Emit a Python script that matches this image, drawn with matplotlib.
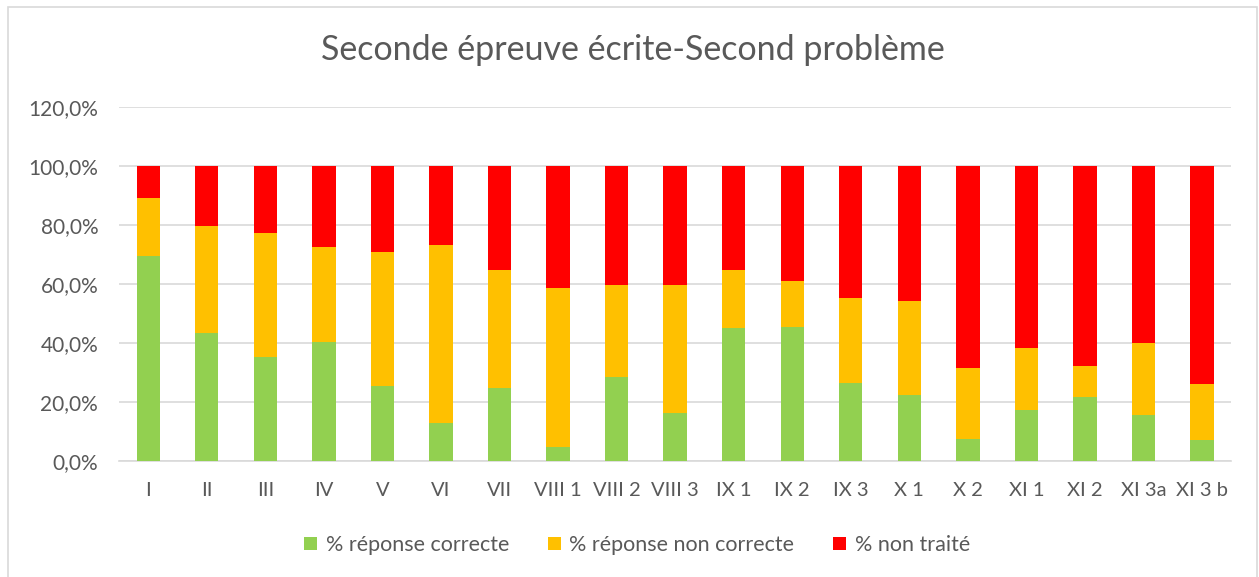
import matplotlib
matplotlib.use("Agg")
import matplotlib.pyplot as plt
import numpy as np
from matplotlib.patches import Rectangle
from matplotlib.ticker import FuncFormatter

plt.rcParams['font.family'] = ['Lato', 'DejaVu Sans']

questions = ["I", "II", "III", "IV", "V", "VI", "VII", "VIII 1", "VIII 2", "VIII 3",
             "IX 1", "IX 2", "IX 3", "X 1", "X 2", "XI 1", "XI 2", "XI 3a", "XI 3 b"]
correcte = [69.5, 43.4, 35.2, 40.2, 25.5, 13.0, 24.7, 4.8, 28.5, 16.4,
            45.0, 45.5, 26.5, 22.5, 7.4, 17.3, 21.6, 15.5, 7.0]
non_correcte = [19.5, 36.3, 42.1, 32.5, 45.5, 60.3, 40.1, 53.8, 31.2, 43.4,
                19.6, 15.5, 28.7, 31.9, 24.2, 21.1, 10.6, 24.5, 19.2]
non_traite = [11.0, 20.3, 22.7, 27.3, 29.0, 26.7, 35.2, 41.4, 40.3, 40.2,
              35.4, 39.0, 44.8, 45.6, 68.4, 61.6, 67.8, 60.0, 73.8]

text_col = "#595959"
fig = plt.figure(figsize=(12.59, 5.77), dpi=100)
ax = fig.add_axes([0.0945, 0.201, 0.8835, 0.6136])

x = np.arange(len(questions))
w = 0.4
ax.bar(x, correcte, w, color="#92D050", label="% réponse correcte", zorder=3)
ax.bar(x, non_correcte, w, bottom=correcte, color="#FFC000",
       label="% réponse non correcte", zorder=3)
bottom2 = np.array(correcte) + np.array(non_correcte)
ax.bar(x, non_traite, w, bottom=bottom2, color="#FF0000", label="% non traité", zorder=3)

ax.set_xlim(-0.5, len(questions) - 0.5)
ax.set_ylim(0, 120)
ax.set_yticks(np.arange(0, 121, 20))
ax.yaxis.set_major_formatter(FuncFormatter(lambda v, p: f"{v:.1f}%".replace(".", ",")))
ax.set_xticks(x)
ax.set_xticklabels(questions)
ax.grid(axis="y", color="#D9D9D9", linewidth=1.2, zorder=0)
for s in ["top", "right", "left"]:
    ax.spines[s].set_visible(False)
ax.spines["bottom"].set_color("#D9D9D9")
ax.spines["bottom"].set_linewidth(1.2)
ax.tick_params(axis="both", length=0, colors=text_col)
ax.tick_params(axis="y", pad=15, labelsize=15)
ax.tick_params(axis="x", pad=15, labelsize=14.5)

fig.text(0.503, 0.913, "Seconde épreuve écrite-Second problème", ha="center", va="center",
         fontsize=24.5, color=text_col)

fig.legend(loc="center", bbox_to_anchor=(0.506, 0.0555), ncol=3, frameon=False,
           fontsize=15.5, labelcolor=text_col, handlelength=0.6, handleheight=0.6,
           handletextpad=0.4, columnspacing=1.8)

fig.patches.append(Rectangle((8 / 1259, -0.01), 1249 / 1259, 1 - 7 / 577 + 0.01,
                             transform=fig.transFigure, fill=False,
                             edgecolor="#D9D9D9", linewidth=1.2))

fig.savefig("out.png", dpi=100)
